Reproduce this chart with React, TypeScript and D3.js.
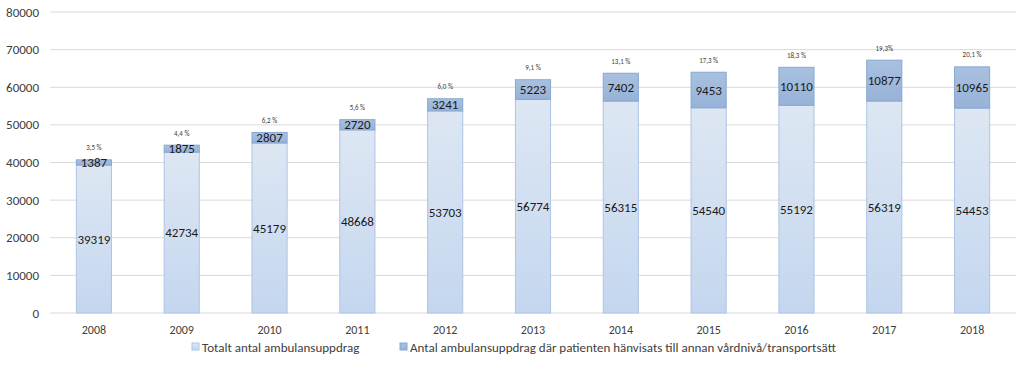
import * as d3 from 'd3';

const years = ['2008', '2009', '2010', '2011', '2012', '2013', '2014', '2015', '2016', '2017', '2018'];
const totalt = [39319, 42734, 45179, 48668, 53703, 56774, 56315, 54540, 55192, 56319, 54453];
const hanvisade = [1387, 1875, 2807, 2720, 3241, 5223, 7402, 9453, 10110, 10877, 10965];
const andel = ['3,5 %', '4,4 %', '6,2 %', '5,6 %', '6,0 %', '9,1 %', '13,1 %', '17,3 %', '18,3 %', '19,3%', '20,1 %'];
const yTicks = [0, 10000, 20000, 30000, 40000, 50000, 60000, 70000, 80000];
const legendLabels = [
  'Totalt antal ambulansuppdrag',
  'Antal ambulansuppdrag där patienten hänvisats till annan vårdnivå/transportsätt',
];

const width = 1024;
const height = 372;
const margin = { top: 12, right: 8, bottom: 59, left: 50 };
const font = "Carlito, Calibri, 'Liberation Sans', Arial, sans-serif";

const App = () => {
  const bottom = height - margin.bottom;

  const xScale = d3
    .scaleBand()
    .domain(years)
    .range([margin.left, width - margin.right])
    .paddingInner(0.6)
    .paddingOuter(0.3);

  const yScale = d3
    .scaleLinear()
    .domain([0, 80000])
    .range([bottom, margin.top]);

  const bw = xScale.bandwidth();

  return (
    <svg width={width} height={height} style={{ position: 'absolute', left: 0, top: 0 }}>
      <defs>
        <linearGradient id="light" x1="0" y1="0" x2="0" y2="1">
          <stop offset="0" stopColor="#dde7f3" />
          <stop offset="1" stopColor="#c4d6ef" />
        </linearGradient>
        <linearGradient id="dark" x1="0" y1="0" x2="0" y2="1">
          <stop offset="0" stopColor="#a9c1e0" />
          <stop offset="1" stopColor="#97b2d8" />
        </linearGradient>
      </defs>
      <rect width={width} height={height} fill="#fff" />

      {/* grid */}
      <g className="grid">
        {yTicks.map((t) => (
          <line
            key={t}
            x1={margin.left}
            x2={width - margin.right}
            y1={yScale(t)}
            y2={yScale(t)}
            stroke="#d9d9d9"
            strokeWidth={1}
          />
        ))}
      </g>

      {/* y axis labels */}
      <g className="y-axis" fontFamily={font} fontSize={13} fill="#404040">
        {yTicks.map((t) => (
          <text key={t} x={margin.left - 11} y={yScale(t)} dy="0.35em" textAnchor="end">
            {t}
          </text>
        ))}
      </g>

      {/* bars */}
      <g className="bars">
        {years.map((y, i) => {
          const x = xScale(y)!;
          const top = totalt[i] + hanvisade[i];
          return (
            <g key={y}>
              <rect
                x={x}
                y={yScale(totalt[i])}
                width={bw}
                height={yScale(0) - yScale(totalt[i])}
                fill="url(#light)"
                stroke="#adc4e3"
                strokeWidth={1}
              />
              <rect
                x={x}
                y={yScale(top)}
                width={bw}
                height={yScale(totalt[i]) - yScale(top)}
                fill="url(#dark)"
                stroke="#89a7d0"
                strokeWidth={1}
              />
            </g>
          );
        })}
      </g>

      {/* data labels */}
      <g className="labels" fontFamily={font} fontSize={13} fill="#1a1a1a" textAnchor="middle">
        {years.map((y, i) => {
          const cx = xScale(y)! + bw / 2;
          const top = totalt[i] + hanvisade[i];
          return (
            <g key={y}>
              <text x={cx} y={yScale(totalt[i] / 2)} dy="0.35em">
                {totalt[i]}
              </text>
              <text x={cx} y={yScale(totalt[i] + hanvisade[i] / 2)} dy="0.35em">
                {hanvisade[i]}
              </text>
              <text x={cx} y={yScale(top) - 12} dy="0.35em" fontSize={7} fill="#404040">
                {andel[i]}
              </text>
            </g>
          );
        })}
      </g>

      {/* x axis labels */}
      <g className="x-axis" fontFamily={font} fontSize={12} fill="#404040" textAnchor="middle">
        {years.map((y) => (
          <text key={y} x={xScale(y)! + bw / 2} y={bottom + 17} dy="0.35em">
            {y}
          </text>
        ))}
      </g>

      {/* legend */}
      <g className="legend" fontFamily={font} fontSize={13} fill="#404040">
        <rect x={192} y={343} width={7} height={7} fill="url(#light)" stroke="#adc4e3" />
        <text x={202} y={347} dy="0.35em">{legendLabels[0]}</text>
        <rect x={400} y={343} width={7} height={7} fill="url(#dark)" stroke="#89a7d0" />
        <text x={410} y={347} dy="0.35em">{legendLabels[1]}</text>
      </g>
    </svg>
  );
};

export default App;
